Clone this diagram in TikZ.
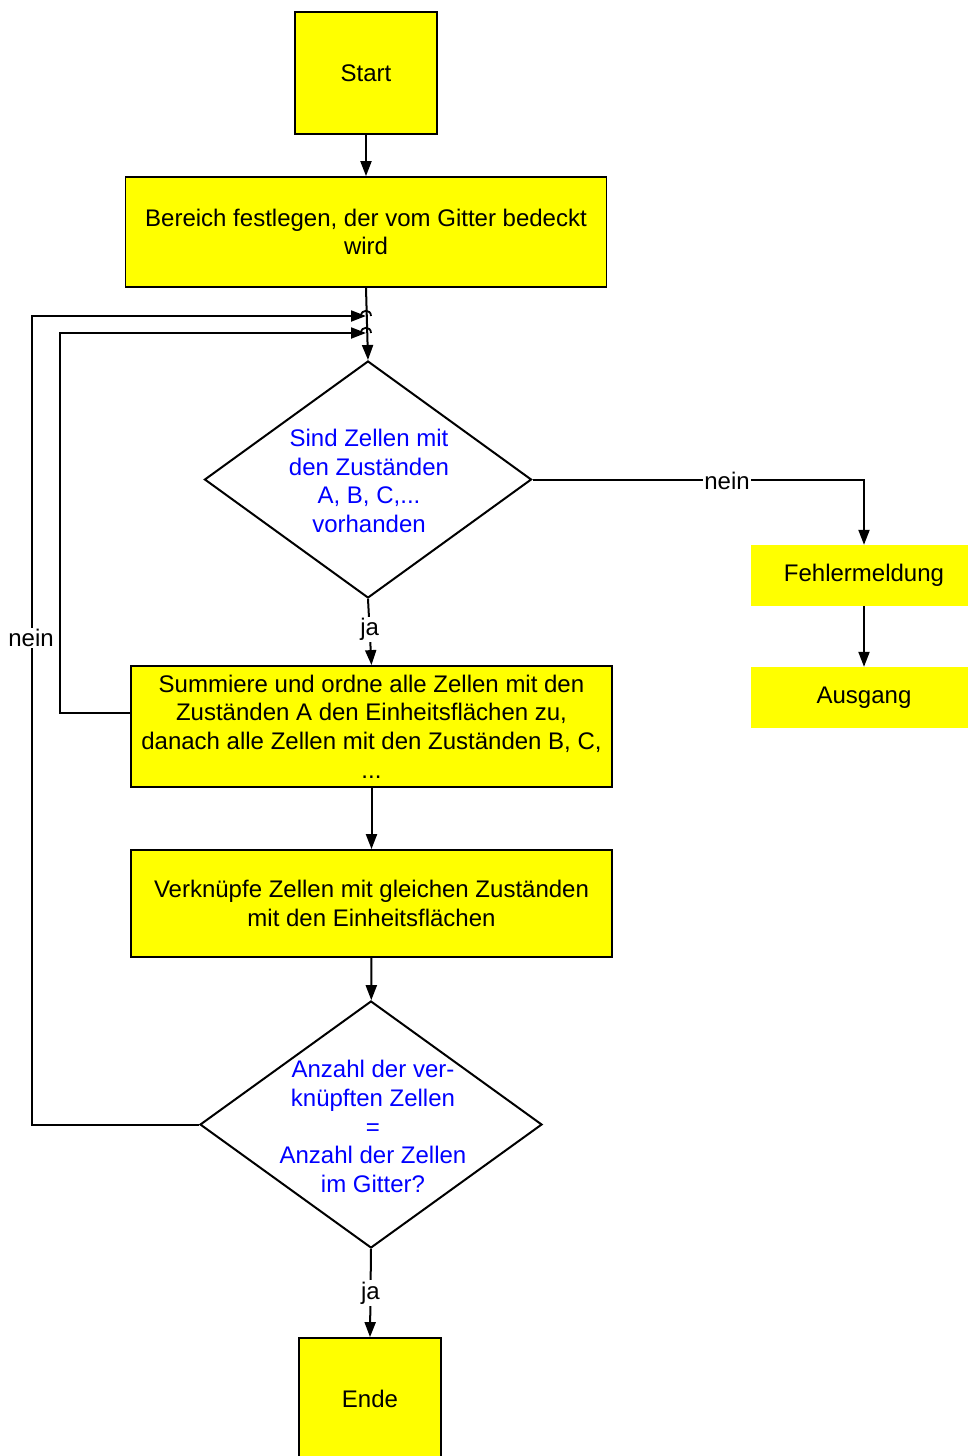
\documentclass[tikz,border=0pt]{standalone}
\usepackage{fontspec}
\setmainfont{Liberation Sans}
\usetikzlibrary{shapes.geometric,arrows.meta,calc}
\definecolor{qblue}{RGB}{0,0,255}
\definecolor{boxyellow}{RGB}{255,255,0}
\begin{document}
\begin{tikzpicture}[x=1pt,y=-1pt,
  font=\fontsize{24}{28.7}\selectfont,
  box/.style={draw=black, line width=1.8pt, fill=boxyellow, align=center, inner sep=0pt},
  plainbox/.style={fill=boxyellow, align=center, inner sep=0pt},
  decision/.style={diamond, draw=black, line width=2pt, fill=white, inner sep=0pt},
  qtext/.style={text=qblue, align=center, inner sep=0pt},
  arr/.style={line width=2pt, -{Triangle[length=15pt,width=11pt]}},
  line/.style={line width=1.8pt},
  lbl/.style={fill=white, inner sep=1.5pt}]
\useasboundingbox (0,0) rectangle (967,1456);

% process steps
\node[box, minimum width=142pt, minimum height=122pt] (start) at (366,73) {Start};
\node[box, minimum width=481pt, minimum height=110pt] (b2) at (366,232)
  {Bereich festlegen, der vom Gitter bedeckt\\wird};
\node[decision, minimum width=327pt, minimum height=237pt] (d1) at (368,479.5) {};
\node[qtext] (d1t) at (369,481) {Sind Zellen mit\\den Zuständen\\A, B, C,...\\vorhanden};
\node[box, minimum width=481pt, minimum height=121pt] (b3) at (371.5,726.5)
  {Summiere und ordne alle Zellen mit den\\Zuständen A den Einheitsflächen zu,\\danach alle Zellen mit den Zuständen B, C,\\...};
\node[box, minimum width=481pt, minimum height=107pt] (b4) at (371.5,903.5)
  {Verknüpfe Zellen mit gleichen Zuständen\\mit den Einheitsflächen};
\node[decision, minimum width=342pt, minimum height=247pt] (d2) at (371,1124.5) {};
\node[qtext] (d2t) at (373,1126.5)
  {Anzahl der ver-\\knüpften Zellen\\=\\Anzahl der Zellen\\im Gitter?};
\node[box, minimum width=142pt, minimum height=122pt] (ende) at (370,1399) {Ende};

% error branch
\node[plainbox, minimum width=226pt, minimum height=61pt] (fm) at (864,575.5) {Fehlermeldung};
\node[plainbox, minimum width=226pt, minimum height=61pt] (au) at (864,697.5) {Ausgang};

% junction points of the two loops on the main line
\coordinate (m1) at (366,316);
\coordinate (m2) at (366,333);
\coordinate (c1) at (32,316);
\coordinate (c2) at (60,333);

% main flow
\draw[arr] (start) -- (b2);
\draw[arr] (b2.south) -- (d1.north);
\draw[arr] (d1.south) -- (b3.north) node[lbl, pos=0.46] (ja1) {ja};
\draw[arr] (b3) -- (b4);
\draw[arr] (b4) -- (d2);
\draw[arr] (d2.south) -- (ende.north) node[lbl, midway] (ja2) {ja};

% loops back to the first decision
\draw[arr] (d2.west) -| (c1) -- (m1);
\draw[arr] ($(b3.west)+(0,-13.5)$) -| (c2) -- (m2);
\node[lbl] (nein1) at (31,638) {nein};

% line jumps where the loops meet the main line
\draw[line] (361,316) .. controls (361,309) and (371,309) .. (371,316);
\draw[line] (361,333) .. controls (361,326) and (371,326) .. (371,333);

% error branch connectors
\draw[arr] (d1.east) -| (fm.north);
\node[lbl] (nein2) at (727,481) {nein};
\draw[arr] (fm) -- (au);
\end{tikzpicture}
\end{document}
